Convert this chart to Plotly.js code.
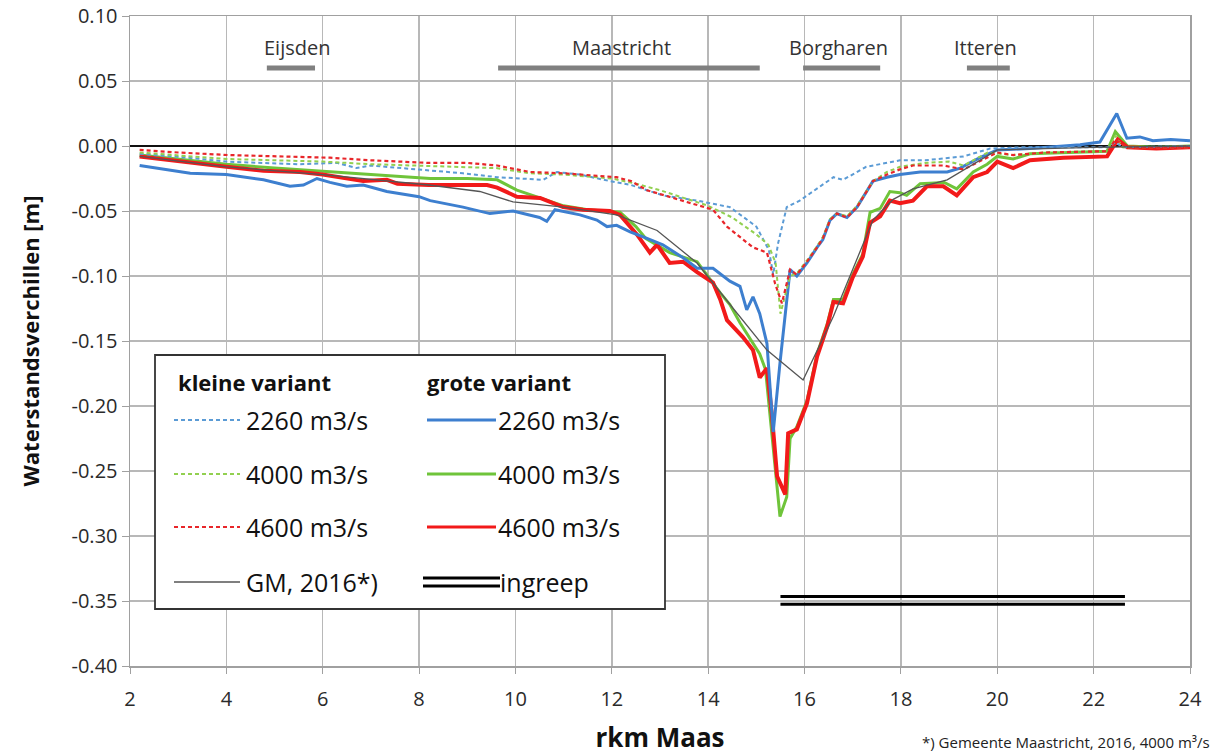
<!DOCTYPE html>
<html>
<head>
<meta charset="utf-8">
<script src="https://cdn.plot.ly/plotly-3.0.1.min.js"></script>
<style>html,body{margin:0;padding:0;background:#fff;}#chart{width:1216px;height:755px;}</style>
</head>
<body>
<div id="chart"></div>
<script>
// ---------- data ----------
const groteKm2260 = [2.2,3.25,4.0,4.77,5.32,5.6,5.88,6.15,6.5,6.84,7.33,8.0,8.23,8.91,9.47,9.95,10.5,10.65,10.82,11.34,11.69,11.9,12.1,12.38,12.73,13.06,13.48,13.77,14.1,14.45,14.66,14.8,14.93,15.07,15.22,15.35,15.49,15.63,15.7,15.84,16.05,16.26,16.38,16.53,16.67,16.88,17.09,17.42,17.71,17.98,18.4,18.96,19.23,19.64,20.0,20.68,21.72,22.13,22.48,22.69,22.96,23.23,23.6,24.0];
const grote2260   = [-0.015,-0.021,-0.022,-0.026,-0.031,-0.030,-0.025,-0.028,-0.031,-0.030,-0.035,-0.039,-0.042,-0.047,-0.052,-0.050,-0.055,-0.058,-0.049,-0.053,-0.057,-0.062,-0.061,-0.066,-0.071,-0.076,-0.086,-0.094,-0.094,-0.104,-0.108,-0.126,-0.116,-0.129,-0.152,-0.220,-0.167,-0.121,-0.095,-0.100,-0.090,-0.078,-0.072,-0.057,-0.052,-0.055,-0.047,-0.027,-0.024,-0.022,-0.020,-0.020,-0.017,-0.009,-0.003,-0.002,0.001,0.003,0.025,0.006,0.007,0.004,0.005,0.004];

const groteKm4000 = [2.2,3.0,4.0,5.0,6.15,7.0,8.23,9.0,9.62,10.03,10.5,11.0,11.5,12.17,12.5,12.7,13.2,13.77,14.25,14.45,14.66,15.07,15.19,15.39,15.49,15.63,15.7,15.84,16.05,16.26,16.47,16.6,16.8,17.0,17.21,17.36,17.57,17.77,17.98,18.12,18.4,18.9,19.16,19.5,19.79,20.0,20.33,20.68,21.37,22.28,22.45,22.7,23.3,24.0];
const grote4000   = [-0.007,-0.010,-0.014,-0.017,-0.020,-0.022,-0.025,-0.025,-0.026,-0.034,-0.040,-0.046,-0.049,-0.051,-0.062,-0.071,-0.082,-0.089,-0.113,-0.122,-0.136,-0.160,-0.172,-0.244,-0.285,-0.270,-0.225,-0.216,-0.196,-0.160,-0.137,-0.118,-0.118,-0.099,-0.083,-0.051,-0.048,-0.035,-0.036,-0.038,-0.029,-0.028,-0.033,-0.020,-0.014,-0.008,-0.010,-0.006,-0.005,-0.004,0.011,0.000,-0.001,0.000];

const groteKm4600 = [2.2,3.25,4.0,4.77,5.53,6.0,6.5,6.84,7.33,7.55,8.2,9.41,9.62,10.03,10.51,10.99,11.4,11.96,12.17,12.52,12.79,12.94,13.2,13.48,13.77,14.1,14.25,14.39,14.72,14.93,15.07,15.22,15.32,15.43,15.6,15.66,15.84,16.05,16.26,16.47,16.6,16.8,17.0,17.21,17.36,17.57,17.77,17.98,18.25,18.54,18.88,19.16,19.5,19.79,20.0,20.33,20.68,21.37,22.28,22.5,22.7,23.3,24.0];
const grote4600   = [-0.008,-0.013,-0.016,-0.019,-0.020,-0.022,-0.025,-0.027,-0.026,-0.029,-0.030,-0.030,-0.032,-0.039,-0.040,-0.047,-0.049,-0.050,-0.053,-0.068,-0.082,-0.076,-0.090,-0.089,-0.097,-0.105,-0.118,-0.134,-0.147,-0.157,-0.178,-0.171,-0.206,-0.254,-0.268,-0.221,-0.218,-0.198,-0.162,-0.139,-0.120,-0.121,-0.101,-0.085,-0.059,-0.054,-0.042,-0.044,-0.042,-0.031,-0.031,-0.038,-0.024,-0.020,-0.012,-0.017,-0.011,-0.009,-0.008,0.005,-0.001,-0.002,-0.001];

const kleineKm2260 = [2.2,3.2,4.0,5.5,6.3,6.7,7.0,8.0,8.91,9.62,10.58,10.86,11.34,11.96,12.4,13.06,13.77,14.45,15.0,15.26,15.35,15.45,15.63,15.9,16.3,16.6,16.8,17.28,17.98,18.5,19.3,19.85,20.5,22.3,22.45,22.6,24.0];
const kleine2260   = [-0.006,-0.009,-0.012,-0.014,-0.013,-0.017,-0.015,-0.018,-0.021,-0.024,-0.026,-0.020,-0.022,-0.027,-0.030,-0.038,-0.042,-0.047,-0.062,-0.080,-0.099,-0.075,-0.047,-0.042,-0.032,-0.024,-0.026,-0.016,-0.011,-0.011,-0.008,-0.002,-0.001,-0.001,0.003,-0.001,0.000];

const kleineKm4000 = [2.2,3.2,4.0,5.0,6.0,7.0,8.0,9.0,9.6,10.3,11.0,12.0,12.5,13.0,13.5,14.0,14.5,15.0,15.25,15.4,15.5,15.6,15.7,15.84,16.05,16.26,16.38,16.53,16.67,16.88,17.09,17.42,17.71,17.98,18.5,19.0,19.3,19.8,20.3,21.0,22.0,22.3,22.45,22.6,23.0,24.0];
const kleine4000   = [-0.005,-0.008,-0.010,-0.011,-0.012,-0.014,-0.015,-0.016,-0.017,-0.021,-0.022,-0.025,-0.029,-0.034,-0.040,-0.046,-0.055,-0.068,-0.076,-0.090,-0.129,-0.115,-0.100,-0.098,-0.088,-0.077,-0.070,-0.056,-0.052,-0.054,-0.046,-0.027,-0.020,-0.016,-0.013,-0.012,-0.015,-0.005,-0.007,-0.005,-0.004,-0.004,0.008,-0.001,-0.001,-0.001];

const kleineKm4600 = [2.2,3.0,4.07,5.0,6.15,7.0,8.2,9.0,9.62,10.3,11.0,12.1,12.4,12.73,13.1,13.48,14.1,14.39,14.93,15.22,15.39,15.53,15.63,15.7,15.84,16.05,16.26,16.38,16.53,16.67,16.88,17.09,17.42,17.71,17.98,18.25,18.88,19.3,20.0,20.33,21.0,22.0,22.3,22.45,22.7,24.0];
const kleine4600   = [-0.003,-0.005,-0.007,-0.008,-0.009,-0.011,-0.013,-0.013,-0.015,-0.020,-0.021,-0.024,-0.027,-0.034,-0.038,-0.042,-0.049,-0.062,-0.078,-0.082,-0.106,-0.121,-0.105,-0.095,-0.099,-0.089,-0.078,-0.071,-0.057,-0.052,-0.055,-0.047,-0.027,-0.022,-0.018,-0.015,-0.015,-0.018,-0.005,-0.007,-0.005,-0.004,-0.004,0.005,-0.001,-0.001];

const gmKm   = [2.2,4.0,6.0,8.2,9.26,9.95,11.0,12.1,12.94,13.77,14.52,15.22,15.97,16.6,17.42,17.84,18.25,18.96,20.0,21.0,22.0,24.0];
const gm2016 = [-0.008,-0.016,-0.022,-0.030,-0.035,-0.043,-0.047,-0.053,-0.065,-0.090,-0.125,-0.157,-0.180,-0.131,-0.057,-0.041,-0.033,-0.026,-0.003,-0.002,-0.001,0.000];

const ingreepKm    = [15.5, 22.65];
const ingreepLevel = [-0.3465, -0.3525];

const townNames   = ['Eijsden','Maastricht','Borgharen','Itteren'];
const townFromKm  = [4.84, 9.64, 15.97, 19.37];
const townToKm    = [5.84, 15.07, 17.57, 20.26];
const townLabelKm = [5.47, 12.2, 16.7, 19.75];

const yTickVals = [0.10,0.05,0.00,-0.05,-0.10,-0.15,-0.20,-0.25,-0.30,-0.35,-0.40];
const xTickVals = [2,4,6,8,10,12,14,16,18,20,22,24];

// ---------- styles ----------
const FONT = 'Open Sans, Lato, sans-serif';
const DASH = '4px,3px';
const series = [
  {name:'2260 m3/s', x:kleineKm2260, y:kleine2260, color:'#5b9bd5', width:2,   dash:DASH, col:0, row:0},
  {name:'4000 m3/s', x:kleineKm4000, y:kleine4000, color:'#92d050', width:2,   dash:DASH, col:0, row:1},
  {name:'4600 m3/s', x:kleineKm4600, y:kleine4600, color:'#e8262a', width:2.2, dash:DASH, col:0, row:2},
  {name:'2260 m3/s', x:groteKm2260,  y:grote2260,  color:'#3d7fcf', width:3,   dash:'solid', col:1, row:0},
  {name:'4000 m3/s', x:groteKm4000,  y:grote4000,  color:'#6fc43a', width:3,   dash:'solid', col:1, row:1},
  {name:'4600 m3/s', x:groteKm4600,  y:grote4600,  color:'#f21a1a', width:4,   dash:'solid', col:1, row:2},
  {name:'GM, 2016*)', x:gmKm,        y:gm2016,     color:'#555555', width:1.3, dash:'solid', col:0, row:3}
];
const drawOrder = [4,5,3,0,1,2,6];

const traces = drawOrder.map(i => {
  const s = series[i];
  return {x:s.x, y:s.y, type:'scatter', mode:'lines', name:s.name,
          line:{color:s.color, width:s.width, dash:s.dash}, showlegend:false, hoverinfo:'x+y'};
});
ingreepLevel.forEach(lv => {
  traces.push({x:ingreepKm, y:ingreepKm.map(()=>lv), type:'scatter', mode:'lines',
    name:'ingreep', line:{color:'#000', width:3}, showlegend:false});
});

// pixel helpers for legend placement (plot area 130..1190 x 16..666)
const L=130, R=1190, T=16, B=666;
const PX = p => (p-L)/(R-L);
const PY = p => (B-p)/(B-T);

const shapes = [];
const annotations = [];

// town bars + labels
townNames.forEach((n,i) => {
  shapes.push({type:'line', xref:'x', yref:'y', x0:townFromKm[i], x1:townToKm[i], y0:0.060, y1:0.060,
    line:{color:'#808080', width:5}});
  annotations.push({xref:'x', yref:'y', x:townLabelKm[i], y:0.076, text:n, showarrow:false,
    font:{family:FONT, size:20, color:'#333'}});
});

// legend box
shapes.push({type:'rect', xref:'paper', yref:'paper', x0:PX(155), x1:PX(665), y0:PY(609), y1:PY(355),
  fillcolor:'#fff', line:{color:'#333', width:1.8}});
annotations.push({xref:'paper', yref:'paper', x:PX(176), y:PY(382), xanchor:'left', yanchor:'middle', text:'<b>kleine variant</b>',
  showarrow:false, font:{family:FONT, size:22, color:'#111'}});
annotations.push({xref:'paper', yref:'paper', x:PX(425), y:PY(382), xanchor:'left', yanchor:'middle', text:'<b>grote variant</b>',
  showarrow:false, font:{family:FONT, size:22, color:'#111'}});
const rowY = [420, 474, 527, 582];
const colLine = [[174,240],[427,496]];
const colText = [244, 496];
series.forEach(s => {
  const yy = PY(rowY[s.row]);
  shapes.push({type:'line', xref:'paper', yref:'paper', x0:PX(colLine[s.col][0]), x1:PX(colLine[s.col][1]),
    y0:yy, y1:yy, line:{color:s.color, width:Math.min(s.width,3), dash:s.dash}});
  annotations.push({xref:'paper', yref:'paper', x:PX(colText[s.col]), y:yy, xanchor:'left', yanchor:'middle', text:s.name,
    showarrow:false, font:{family:FONT, size:25, color:'#111'}});
});
// ingreep legend (double line)
[-4,4].forEach(d => {
  shapes.push({type:'line', xref:'paper', yref:'paper', x0:PX(423), x1:PX(500), y0:PY(rowY[3]+d), y1:PY(rowY[3]+d),
    line:{color:'#000', width:3}});
});
annotations.push({xref:'paper', yref:'paper', x:PX(498), y:PY(rowY[3]), xanchor:'left', yanchor:'middle', text:'ingreep',
  showarrow:false, font:{family:FONT, size:25, color:'#111'}});

// footnote
annotations.push({xref:'paper', yref:'paper', x:PX(1212), y:PY(742), xanchor:'right', yanchor:'middle', text:'*) Gemeente Maastricht, 2016, 4000 m³/s',
  showarrow:false, font:{family:FONT, size:15, color:'#222'}});

const layout = {
  width:1216, height:755,
  margin:{l:L, r:1216-R, t:T, b:755-B},
  paper_bgcolor:'#fff', plot_bgcolor:'#fff',
  showlegend:false,
  font:{family:FONT, color:'#333'},
  xaxis:{range:[2,24], tickvals:xTickVals, ticktext:xTickVals.map(String),
    showgrid:true, gridcolor:'#b8b8b8', gridwidth:1.5, zeroline:false,
    showline:true, linecolor:'#a0a0a0', linewidth:1.5, mirror:true,
    ticks:'outside', ticklen:6, tickcolor:'#a0a0a0', ticklabelstandoff:8,
    tickfont:{family:FONT, size:20, color:'#2a2a2a'},
    title:{text:'<b>rkm Maas</b>', font:{family:FONT, size:26, color:'#111'}, standoff:20}},
  yaxis:{range:[-0.4,0.1], tickvals:yTickVals, ticktext:yTickVals.map(v=>v.toFixed(2)),
    showgrid:true, gridcolor:'#b8b8b8', gridwidth:1.5,
    zeroline:true, zerolinecolor:'#111', zerolinewidth:2.5,
    showline:true, linecolor:'#a0a0a0', linewidth:1.5, mirror:true,
    ticks:'outside', ticklen:7, tickcolor:'#a0a0a0',
    tickfont:{family:FONT, size:20, color:'#2a2a2a'},
    title:{text:'<b>Waterstandsverchillen [m]</b>', font:{family:FONT, size:22, color:'#111'}, standoff:26}},
  shapes:shapes,
  annotations:annotations
};

Plotly.newPlot('chart', traces, layout, {displayModeBar:false, staticPlot:true});
</script>
</body>
</html>
